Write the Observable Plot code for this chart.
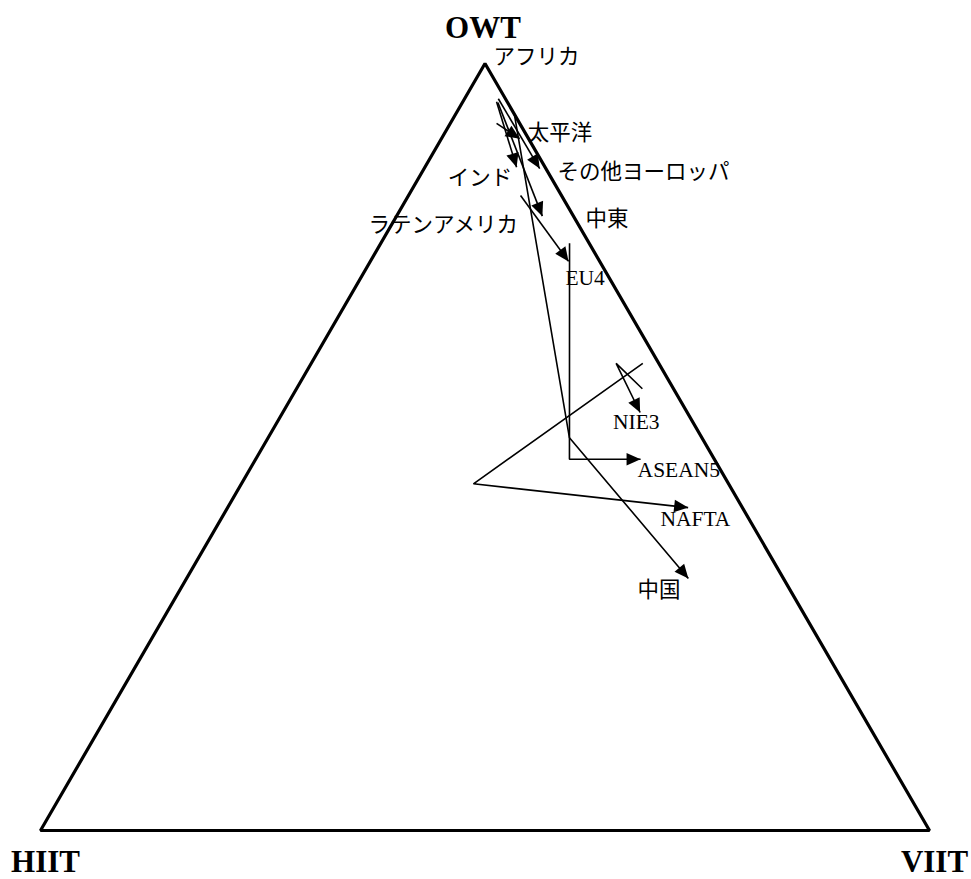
<!DOCTYPE html>
<html>
<head>
<meta charset="utf-8">
<script src="https://cdn.jsdelivr.net/npm/d3@7"></script>
<script src="https://cdn.jsdelivr.net/npm/@observablehq/plot@0.6"></script>
<style>
  html, body { margin: 0; padding: 0; background: white; }
</style>
</head>
<body>
<div id="chart"></div>
<script>
// Corners of the ternary diagram (OWT, HIIT, VIIT shares in %)
const vertexNames = ["OWT", "HIIT", "VIIT"];
const vertexShares = [[100, 0, 0], [0, 100, 0], [0, 0, 100]];

// Arrows: each region's path through the diagram (shares in %)
const arrowRegions = ["太平洋", "インド", "その他ヨーロッパ", "中東", "EU4", "ASEAN5", "NIE3", "NAFTA", "中国"];
const owtShare  = [[92.2, 90.2], [95.0, 86.4], [95.4, 86.3], [94.9, 80.1], [82.8, 74.2], [76.5, 48.4, 48.4], [57.6, 60.9, 54.5], [60.9, 45.2, 42.1], [93.4, 51.2, 32.9]];
const hiitShare = [[2.6, 1.0],   [1.2, 3.2],   [0.8, 0.7],   [1.1, 3.5],   [4.6, 3.5],   [2.2, 16.3, 8.3],   [3.5, 4.8, 5.3],    [1.8, 28.7, 6.1],   [0.0, 14.9, 10.7]];
const viitShare = [[5.2, 8.8],   [3.8, 10.3],  [3.8, 13.0],  [4.0, 16.4],  [12.6, 22.3], [21.2, 35.3, 43.3], [38.9, 34.3, 40.2], [37.3, 26.1, 51.8], [6.6, 33.9, 56.5]];

// Region labels (Japanese) and their anchor positions in shares (%)
const jpLabels = ["アフリカ", "太平洋", "その他ヨーロッパ", "インド", "中東", "ラテンアメリカ", "中国"];
const jpLabelOwt  = [99.9, 90.0, 84.9, 84.2, 78.8, 78.0, 30.5];
const jpLabelHiit = [-0.9, 0.2, -0.6, 12.1, -0.7, 24.1, 17.6];
const jpLabelViit = [1.0, 9.8, 15.7, 3.7, 21.9, -2.1, 51.9];

// Region labels (Latin)
const enLabels = ["EU4", "NIE3", "ASEAN5", "NAFTA"];
const enLabelOwt  = [71.1, 52.4, 46.0, 39.8];
const enLabelHiit = [5.4, 9.4, 9.8, 10.4];
const enLabelViit = [23.5, 38.2, 44.1, 49.9];

// ternary -> planar (x in [0,1], y in [0,1] as OWT share)
function toXY(o, h, v) {
  const s = o + h + v;
  return {x: (v + o / 2) / s, y: o / s};
}

const triangle = vertexNames.map((name, i) => ({name, ...toXY(...vertexShares[i])}));
const arrowRows = arrowRegions.flatMap((name, i) =>
  owtShare[i].map((o, j) => ({name, ...toXY(o, hiitShare[i][j], viitShare[i][j])}))
);
const jpRows = jpLabels.map((name, i) => ({name, ...toXY(jpLabelOwt[i], jpLabelHiit[i], jpLabelViit[i])}));
const enRows = enLabels.map((name, i) => ({name, ...toXY(enLabelOwt[i], enLabelHiit[i], enLabelViit[i])}));

const serif = "'Liberation Serif', 'Times New Roman', serif";

const chart = Plot.plot({
  width: 971,
  height: 879,
  margin: 0,
  x: {domain: [0, 1], range: [40, 929], axis: null},
  y: {domain: [0, 1], range: [830, 63], axis: null},
  style: {background: "white"},
  marks: [
    Plot.line(triangle, {x: "x", y: "y", curve: "linear-closed", stroke: "black", strokeWidth: 3.2, strokeLinejoin: "miter"}),
    Plot.line(arrowRows, {x: "x", y: "y", z: "name", stroke: "black", strokeWidth: 1.6, strokeLinecap: "butt", strokeLinejoin: "miter", markerEnd: "arrow"}),
    Plot.text(jpRows, {x: "x", y: "y", text: "name", textAnchor: "start", lineAnchor: "bottom", fontFamily: "'Noto Sans CJK JP', sans-serif", fontSize: 21.5, fill: "black"}),
    Plot.text(enRows, {x: "x", y: "y", text: "name", textAnchor: "start", lineAnchor: "bottom", fontFamily: serif, fontSize: 21.5, fill: "black"}),
    Plot.text(triangle.filter(d => d.name === "OWT"), {x: "x", y: "y", text: "name", textAnchor: "middle", lineAnchor: "bottom", dx: -2, dy: -26, fontFamily: serif, fontWeight: "bold", fontSize: 31, fill: "black"}),
    Plot.text(triangle.filter(d => d.name !== "OWT"), {x: "x", y: "y", text: "name", textAnchor: "middle", lineAnchor: "bottom", dx: 5, dy: 41, fontFamily: serif, fontWeight: "bold", fontSize: 31, fill: "black"})
  ]
});

// Filled triangular arrowheads
chart.querySelectorAll("marker").forEach(m => {
  m.setAttribute("viewBox", "-15 -7 15 14");
  m.setAttribute("markerUnits", "userSpaceOnUse");
  m.setAttribute("markerWidth", "15");
  m.setAttribute("markerHeight", "14");
  m.setAttribute("refX", "0");
  m.setAttribute("refY", "0");
  m.setAttribute("fill", "black");
  m.setAttribute("stroke", "none");
  while (m.firstChild) m.removeChild(m.firstChild);
  const p = document.createElementNS("http://www.w3.org/2000/svg", "path");
  p.setAttribute("d", "M-14,-6.3L0,0L-14,6.3Z");
  m.appendChild(p);
});

document.getElementById("chart").appendChild(chart);
</script>
</body>
</html>
